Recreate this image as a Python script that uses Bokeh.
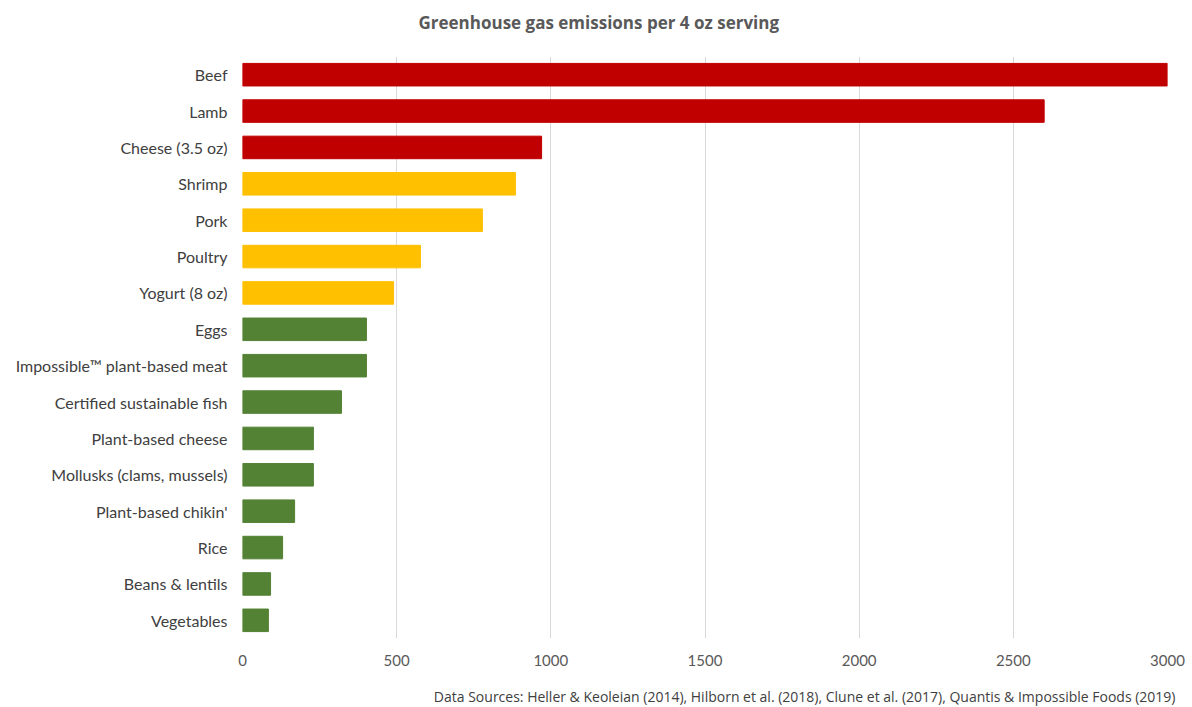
from bokeh.plotting import figure
from bokeh.models import FactorRange, Range1d, FixedTicker, Title, ColumnDataSource
from bokeh.embed import file_html
from bokeh.resources import INLINE

foods = ["Beef", "Lamb", "Cheese (3.5 oz)", "Shrimp", "Pork", "Poultry", "Yogurt (8 oz)",
         "Eggs", "Impossible\u2122 plant-based meat", "Certified sustainable fish",
         "Plant-based cheese", "Mollusks (clams, mussels)", "Plant-based chikin'",
         "Rice", "Beans & lentils", "Vegetables"]
emissions = [3000, 2600, 970, 885, 778, 577, 490, 402, 402, 321, 230, 230, 169, 130, 91, 84]
impact = ["high", "high", "high", "mid", "mid", "mid", "mid",
          "low", "low", "low", "low", "low", "low", "low", "low", "low"]
impact_colors = {"high": "#C00000", "mid": "#FFC000", "low": "#548235"}
x_ticks = [0, 500, 1000, 1500, 2000, 2500, 3000]
title_text = "Greenhouse gas emissions per 4 oz serving"
source_text = ("Data Sources: Heller & Keoleian (2014), Hilborn et al. (2018), "
               "Clune et al. (2017), Quantis & Impossible Foods (2019)")

src = ColumnDataSource(dict(food=foods, val=emissions,
                            color=[impact_colors[i] for i in impact]))

W, H = 1190, 707
FL, FR, FT, FB = 242, 1167, 56, 638   # frame edges in page pixels

p = figure(width=W, height=H, output_backend="svg", toolbar_location=None,
           y_range=FactorRange(factors=list(reversed(foods)), range_padding=0),
           x_range=Range1d(0, 3000),
           min_border_left=FL, min_border_right=W - FR, min_border_top=FT,
           min_border_bottom=H - FB)

p.hbar(y="food", right="val", left=0, height=0.62, color="color", source=src)

p.outline_line_color = None
p.background_fill_color = "white"
p.border_fill_color = "white"
p.ygrid.grid_line_color = None
p.xgrid.grid_line_color = "#d9d9d9"
p.xgrid.grid_line_width = 1
p.xaxis.ticker = FixedTicker(ticks=x_ticks)

for ax in (p.xaxis, p.yaxis):
    ax.axis_line_color = None
    ax.major_tick_line_color = None
    ax.minor_tick_line_color = None
    ax.major_tick_out = 0
    ax.major_tick_in = 0
    ax.major_label_text_font = "Lato"
p.xaxis.major_label_text_font_size = "15px"
p.yaxis.major_label_text_font_size = "16px"
p.xaxis.major_label_text_color = "#595959"
p.yaxis.major_label_text_color = "#404040"
p.xaxis.major_label_standoff = 16
p.yaxis.major_label_standoff = 15

# spacer panels (blank) to position the title and the source note
p.add_layout(Title(text=" ", text_font_size="10px", standoff=10), "above")
p.add_layout(Title(text=title_text, align="left", offset=FL and 176, standoff=0,
                   text_font="Open Sans", text_font_size="17px",
                   text_font_style="bold", text_color="#595959"), "above")

p.add_layout(Title(text=" ", text_font_size="10px", standoff=3), "below")
p.add_layout(Title(text=source_text, align="right", offset=-8, standoff=0,
                   text_font="Open Sans", text_font_size="14px",
                   text_font_style="normal", text_color="#404040"), "below")

open("out.html", "w").write(file_html(p, INLINE))
